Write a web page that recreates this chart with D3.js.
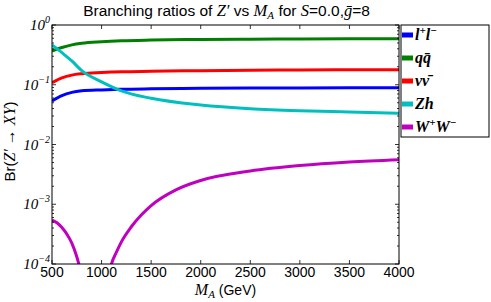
<!DOCTYPE html>
<meta charset="utf-8">
<style>
body { margin: 0; background: #fff; }
svg text { fill: #000; }
.sans { font-family: "Liberation Sans", Arial, sans-serif; }
.math { font-family: "Liberation Serif", "DejaVu Serif", serif; font-style: italic; }
</style>
<body>
<div id="chart"></div>
<script src="https://d3js.org/d3.v7.min.js"></script>
<script>

// masses (GeV) where the smooth curves were read
const mainMass = [500, 600, 700, 800, 1000, 1200, 1500, 2000, 2500, 3000, 3500, 4000];
const llBr   = [0.0535, 0.066, 0.0745, 0.079, 0.082, 0.084, 0.0855, 0.087, 0.088, 0.0885, 0.089, 0.0893];
const qqBr   = [0.367, 0.42, 0.465, 0.495, 0.525, 0.545, 0.56, 0.573, 0.58, 0.585, 0.588, 0.59];
const nunuBr = [0.108, 0.13, 0.145, 0.153, 0.16, 0.165, 0.168, 0.172, 0.175, 0.177, 0.178, 0.179];
const zhBr   = [0.463, 0.344, 0.25, 0.172, 0.112, 0.079, 0.0593, 0.0458, 0.0397, 0.0367, 0.035, 0.0333];

// W+W- dips through zero near 950 GeV, so it gets a finer grid
const wwMass = [500, 550, 600, 650, 700, 750, 800, 850, 900, 950, 1000, 1050, 1100, 1150, 1200, 1300, 1400, 1500, 1750, 2000, 2500, 3000, 3500, 4000];
const wwBr   = [5.45e-4, 4.9e-4, 4.07e-4, 3.16e-4, 2.24e-4, 1.32e-4, 6.3e-5, 2.5e-5, 6e-6, 1e-6, 1e-5, 4e-5, 1.0e-4, 1.58e-4, 2.35e-4, 4.2e-4, 6.6e-4, 9.5e-4, 1.74e-3, 2.5e-3, 3.6e-3, 4.45e-3, 5.1e-3, 5.57e-3];

const xTicks = [500, 1000, 1500, 2000, 2500, 3000, 3500, 4000];
const yTickExps = [0, -1, -2, -3, -4];

const width = 491, height = 302;
const margin = {top: 25, right: 92, bottom: 38, left: 52};

const x = d3.scaleLinear().domain([500, 4000]).range([margin.left, width - margin.right]);
const y = d3.scaleLog().domain([1e-4, 1]).range([height - margin.bottom, margin.top]);

const series = [
  {mass: mainMass, br: llBr,   color: "#0000ff", label: [["l", 0], ["+", 1], ["l", 0], ["\u2212", 1]]},
  {mass: mainMass, br: qqBr,   color: "#008000", label: [["q", 0], ["q\u0304", 0]]},
  {mass: mainMass, br: nunuBr, color: "#ff0000", label: [["\u03bd", 0], ["\u03bd\u0304", 0]]},
  {mass: mainMass, br: zhBr,   color: "#00bfbf", label: [["Zh", 0]]},
  {mass: wwMass,   br: wwBr,   color: "#bf00bf", label: [["W", 0], ["+", 1], ["W", 0], ["\u2212", 1]]}
];

const svg = d3.select("#chart").append("svg")
  .attr("width", width)
  .attr("height", height);

svg.append("clipPath").attr("id", "plotclip")
  .append("rect")
  .attr("x", margin.left).attr("y", margin.top)
  .attr("width", width - margin.right - margin.left)
  .attr("height", height - margin.bottom - margin.top);

const line = d3.line()
  .x(d => x(d[0]))
  .y(d => y(d[1]))
  .curve(d3.curveMonotoneX);

svg.append("g")
  .attr("clip-path", "url(#plotclip)")
  .selectAll("path")
  .data(series)
  .join("path")
    .attr("fill", "none")
    .attr("stroke", d => d.color)
    .attr("stroke-width", 3)
    .attr("d", d => line(d.mass.map((m, i) => [m, d.br[i]])));

// frame
const x0 = margin.left, x1 = width - margin.right, y0 = height - margin.bottom, y1 = margin.top;
svg.append("rect")
  .attr("x", x0).attr("y", y1)
  .attr("width", x1 - x0).attr("height", y0 - y1)
  .attr("fill", "none").attr("stroke", "#000").attr("stroke-width", 1);

// x ticks (inside, top and bottom)
const tickG = svg.append("g").attr("stroke", "#000").attr("stroke-width", 0.8);
xTicks.forEach(t => {
  tickG.append("line").attr("x1", x(t)).attr("x2", x(t)).attr("y1", y0).attr("y2", y0 - 4);
  tickG.append("line").attr("x1", x(t)).attr("x2", x(t)).attr("y1", y1).attr("y2", y1 + 4);
});
svg.append("g").selectAll("text")
  .data(xTicks)
  .join("text")
    .attr("class", "sans")
    .attr("x", d => x(d))
    .attr("y", y0 + 13)
    .attr("text-anchor", "middle")
    .attr("font-size", 14)
    .text(d => d);

// y ticks, major and minor, inside on both sides
y.ticks().forEach(t => {
  const major = Math.abs(Math.log10(t) - Math.round(Math.log10(t))) < 1e-9;
  const len = major ? 4 : 2;
  tickG.append("line").attr("x1", x0).attr("x2", x0 + len).attr("y1", y(t)).attr("y2", y(t));
  tickG.append("line").attr("x1", x1).attr("x2", x1 - len).attr("y1", y(t)).attr("y2", y(t));
});
const yLab = svg.append("g").selectAll("text")
  .data(yTickExps)
  .join("text")
    .attr("class", "math")
    .attr("font-style", "normal")
    .attr("x", x0 - 2)
    .attr("y", d => y(Math.pow(10, d)) + 5)
    .attr("text-anchor", "end")
    .attr("fill", "#222");
yLab.append("tspan").attr("font-size", 15).text("10");
yLab.append("tspan").attr("font-size", 10).attr("dy", -7)
  .text(d => d === 0 ? "0" : "\u2212" + (-d));

// title
const title = svg.append("text")
  .attr("class", "sans")
  .attr("x", (x0 + x1) / 2 + 1)
  .attr("y", 16)
  .attr("text-anchor", "middle")
  .attr("font-size", 15.5);
title.append("tspan").text("Branching ratios of ");
title.append("tspan").attr("class", "math").attr("font-size", 16.5).text("Z\u2032");
title.append("tspan").text(" vs ");
title.append("tspan").attr("class", "math").attr("font-size", 16.5).text("M");
title.append("tspan").attr("class", "math").attr("font-size", 11).attr("dy", 3).text("A");
title.append("tspan").attr("dy", -3).text(" for ");
title.append("tspan").attr("class", "math").attr("font-size", 16.5).text("S");
title.append("tspan").text("=0.0,");
title.append("tspan").attr("class", "math").attr("font-size", 16.5).text("g\u0304");
title.append("tspan").text("=8");

// x label
const xl = svg.append("text")
  .attr("class", "sans")
  .attr("x", (x0 + x1) / 2)
  .attr("y", 295)
  .attr("text-anchor", "middle")
  .attr("font-size", 14);
xl.append("tspan").attr("class", "math").attr("font-size", 16).text("M");
xl.append("tspan").attr("class", "math").attr("font-size", 11).attr("dy", 3).text("A");
xl.append("tspan").attr("dy", -3).text(" (GeV)");

// y label
const yl = svg.append("text")
  .attr("class", "sans")
  .attr("transform", `translate(15,${(y0 + y1) / 2 - 3}) rotate(-90)`)
  .attr("text-anchor", "middle")
  .attr("font-size", 15);
yl.append("tspan").text("Br(");
yl.append("tspan").attr("class", "math").attr("font-size", 16).text("Z\u2032 \u2192 XY");
yl.append("tspan").text(")");

// legend
const lgX = 401, lgY = 25, rowH = 23;
svg.append("rect")
  .attr("x", lgX).attr("y", lgY)
  .attr("width", 88).attr("height", 112)
  .attr("fill", "#fff").attr("stroke", "#000").attr("stroke-width", 1);
const lg = svg.append("g").selectAll("g")
  .data(series)
  .join("g")
    .attr("transform", (d, i) => `translate(${lgX},${lgY + 10 + i * rowH})`);
lg.append("line")
  .attr("x1", 1).attr("x2", 12)
  .attr("stroke", d => d.color)
  .attr("stroke-width", 5);
lg.append("text")
  .attr("class", "math")
  .attr("font-weight", "bold")
  .attr("x", 14)
  .attr("y", 5)
  .attr("font-size", 16)
  .each(function(d) {
    const t = d3.select(this);
    let up = 0;
    d.label.forEach(([s, sup]) => {
      const shift = sup ? -6 : 0;
      t.append("tspan")
        .attr("font-size", sup ? 11 : 16)
        .attr("dy", shift - up)
        .text(s);
      up = shift;
    });
  });

</script>
</body>
